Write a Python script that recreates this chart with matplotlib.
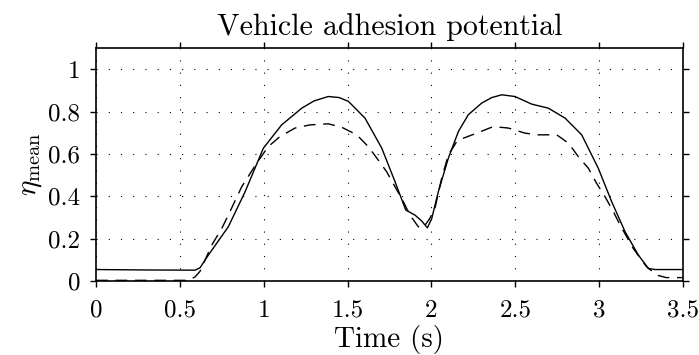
import numpy as np
import matplotlib
matplotlib.use("Agg")
import matplotlib.pyplot as plt

plt.rcParams['font.family'] = 'serif'
plt.rcParams['font.serif'] = ['cmr10']
plt.rcParams['mathtext.fontset'] = 'cm'
plt.rcParams['axes.formatter.use_mathtext'] = True
plt.rcParams['font.size'] = 18

# solid line
t_solid = [0, 0.3, 0.59, 0.62, 0.67, 0.789, 0.889, 0.998, 1.107, 1.227, 1.3, 1.385,
           1.45, 1.505, 1.604, 1.704, 1.783, 1.847, 1.902, 1.94, 1.976, 2.002, 2.041,
           2.101, 2.161, 2.22, 2.30, 2.36, 2.419, 2.498, 2.598, 2.697, 2.797, 2.896,
           2.995, 3.075, 3.155, 3.234, 3.294, 3.334, 3.5]
eta_solid = [0.054, 0.052, 0.051, 0.062, 0.122, 0.256, 0.421, 0.627, 0.737, 0.816, 0.850, 0.871,
             0.866, 0.848, 0.769, 0.627, 0.469, 0.335, 0.311, 0.285, 0.251, 0.295, 0.421,
             0.580, 0.706, 0.785, 0.840, 0.866, 0.879, 0.871, 0.835, 0.816, 0.769, 0.690,
             0.532, 0.374, 0.232, 0.122, 0.059, 0.054, 0.054]

# dashed line
t_dash = [0, 0.3, 0.55, 0.59, 0.62, 0.69, 0.75, 0.789, 0.869, 0.958, 1.027, 1.097,
          1.187, 1.276, 1.385, 1.465, 1.555, 1.624, 1.683, 1.733, 1.783, 1.833,
          1.872, 1.922, 1.95, 1.99, 2.021, 2.061, 2.101, 2.151, 2.19, 2.27, 2.369,
          2.459, 2.558, 2.637, 2.747, 2.817, 2.876, 2.936, 2.985, 3.035, 3.085,
          3.125, 3.204, 3.284, 3.347, 3.4, 3.5]
eta_dash = [0.003, 0.003, 0.003, 0.019, 0.045, 0.169, 0.248, 0.311, 0.445, 0.556, 0.634, 0.682,
            0.722, 0.737, 0.742, 0.726, 0.690, 0.634, 0.571, 0.516, 0.445, 0.374,
            0.311, 0.256, 0.25, 0.295, 0.343, 0.485, 0.595, 0.658, 0.674, 0.698, 0.729,
            0.722, 0.698, 0.690, 0.690, 0.651, 0.587, 0.532, 0.461, 0.398, 0.327,
            0.264, 0.153, 0.066, 0.027, 0.016, 0.016]

fig = plt.figure(figsize=(6.99, 3.55), dpi=100)
ax = fig.add_axes([0.1373, 0.2085, 0.8398, 0.6563])

ax.plot(t_solid, eta_solid, '-k', lw=1.0)
ax.plot(t_dash, eta_dash, color='k', lw=1.0, linestyle=(0, (8.5, 5.5)))

ax.set_xlim(0, 3.5)
ax.set_ylim(0, 1.1)
ax.set_xticks(np.arange(0, 3.51, 0.5))
ax.set_yticks(np.arange(0, 1.01, 0.2))
ax.set_xticklabels(['0', '0.5', '1', '1.5', '2', '2.5', '3', '3.5'])
ax.set_yticklabels(['0', '0.2', '0.4', '0.6', '0.8', '1'])
ax.tick_params(direction='out', length=4.5, width=1, top=True, right=True, pad=7)
ax.tick_params(axis='x', pad=9)
ax.grid(True, color='k', lw=0.8, linestyle=(0, (1, 10)))
for s in ax.spines.values():
    s.set_linewidth(1.2)

ax.set_title('Vehicle adhesion potential', pad=9)
ax.set_xlabel('Time (s)', fontsize=21, labelpad=2)
ax.set_ylabel(r'$\eta_{\mathrm{mean}}$', fontsize=21, labelpad=3)

fig.savefig('out.png', dpi=100)
